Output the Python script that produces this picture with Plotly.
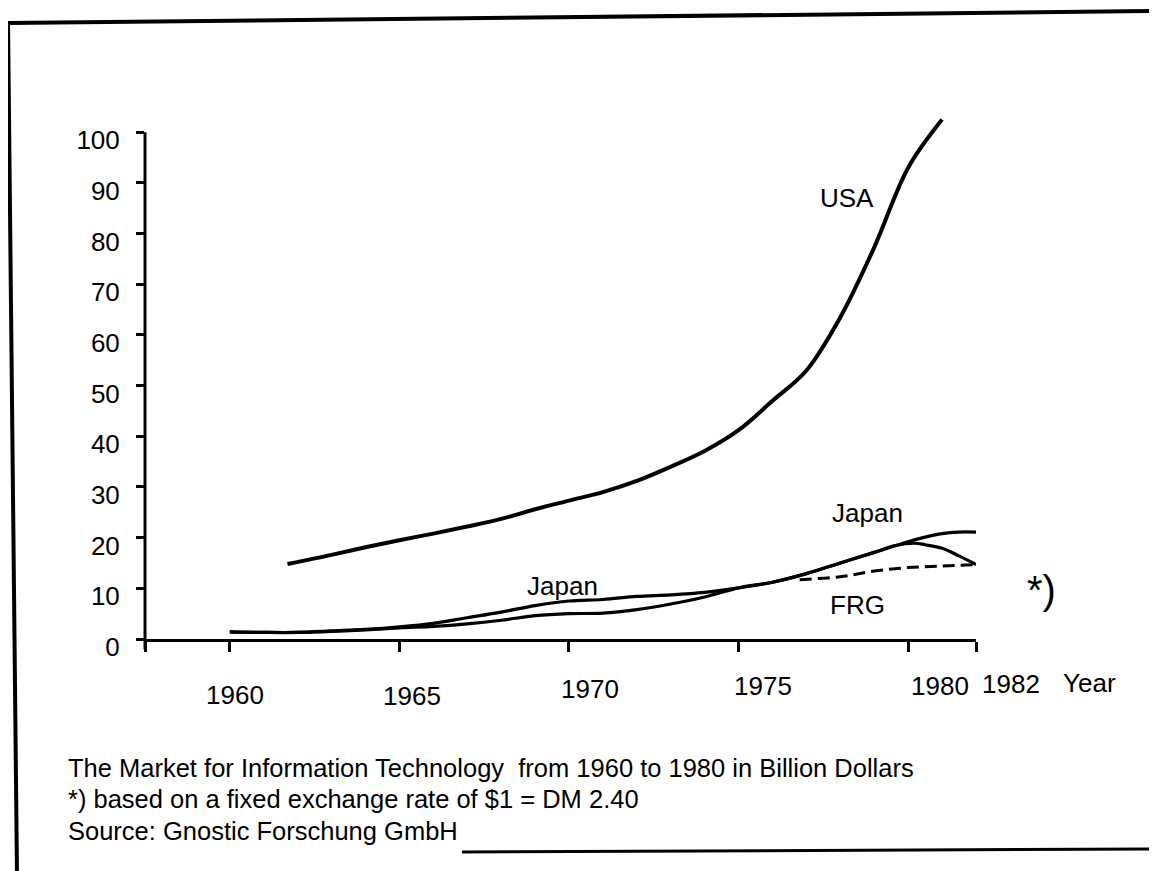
import plotly.graph_objects as go

# values (billion dollars)
usa_years = [1961.7, 1963, 1964, 1965, 1966, 1967, 1968, 1969, 1970, 1971, 1972,
             1973, 1974, 1975, 1976, 1977, 1978, 1979, 1980, 1981]
usa_values = [14.8, 16.6, 18.1, 19.5, 20.8, 22.2, 23.7, 25.6, 27.3, 29.0, 31.2,
              34.0, 37.1, 41.2, 47.0, 53.0, 63.5, 77.3, 93.0, 102.5]

japan_years = [1960, 1961, 1962, 1963, 1964, 1965, 1966, 1967, 1968, 1969, 1970,
               1971, 1972, 1973, 1974, 1975, 1976, 1977, 1978, 1979, 1980,
               1980.5, 1981, 1981.5, 1982]
japan_values = [1.4, 1.3, 1.3, 1.6, 1.9, 2.4, 3.1, 4.2, 5.3, 6.6, 7.5,
                7.8, 8.4, 8.7, 9.2, 10.1, 11.2, 12.9, 15.0, 17.1, 19.2,
                20.1, 20.8, 21.1, 21.1]

frg_years = [1960, 1961, 1962, 1963, 1964, 1965, 1966, 1967, 1968, 1969, 1970,
             1971, 1972, 1973, 1974, 1975, 1976, 1977, 1978, 1979, 1979.6,
             1980.2, 1980.5, 1981, 1981.5, 1982]
frg_values = [1.4, 1.3, 1.3, 1.5, 1.8, 2.2, 2.5, 3.0, 3.7, 4.6, 5.0,
              5.1, 5.8, 6.9, 8.3, 10.1, 11.2, 12.9, 15.0, 17.1, 18.4,
              18.9, 18.6, 17.9, 16.4, 14.7]

# FRG at fixed exchange rate *)
frg_fixed_years = [1976.8, 1978, 1979, 1980, 1981, 1982]
frg_fixed_values = [11.7, 12.3, 13.4, 14.1, 14.4, 14.7]

y_ticks = [0, 10, 20, 30, 40, 50, 60, 70, 80, 90, 100]
x_ticks = [1957.5, 1960, 1965, 1970, 1975, 1980, 1982]
year_labels = ["1960", "1965", "1970", "1975", "1980", "1982", "Year"]

captions = [
    "The Market for Information Technology  from 1960 to 1980 in Billion Dollars",
    "*) based on a fixed exchange rate of $1 = DM 2.40",
    "Source: Gnostic Forschung GmbH",
]

FONT = "Liberation Sans, Arial, sans-serif"
BODY = 8  # default page margin around the plot div
W_FIG, H_FIG = 1157 - BODY, 871 - BODY
# plot area in screen pixels
SL, SR, ST, SB = 145, 976, 112, 639
Y_MAX = 104


def px(x):
    return (x - SL) / (SR - SL)


def py(y):
    return (SB - y) / (SB - ST)


fig = go.Figure()
fig.add_trace(go.Scatter(x=usa_years, y=usa_values, mode="lines", line_shape="spline",
                         line=dict(color="black", width=4), name="USA"))
fig.add_trace(go.Scatter(x=japan_years, y=japan_values, mode="lines", line_shape="spline",
                         line=dict(color="black", width=3.2), name="Japan"))
fig.add_trace(go.Scatter(x=frg_years, y=frg_values, mode="lines", line_shape="spline",
                         line=dict(color="black", width=3.2), name="FRG"))
fig.add_trace(go.Scatter(x=frg_fixed_years, y=frg_fixed_values, mode="lines", line_shape="spline",
                         line=dict(color="black", width=3, dash="12px,6px"), name="FRG *)"))

txt = dict(family=FONT, size=26, color="black")
ann = [
    dict(x=1978.2, y=87, xref="x", yref="y", text="USA", showarrow=False, font=txt),
    dict(x=1978.8, y=24.8, xref="x", yref="y", text="Japan", showarrow=False, font=txt),
    dict(x=1969.8, y=10.4, xref="x", yref="y", text="Japan", showarrow=False, font=txt),
    dict(x=1978.5, y=6.7, xref="x", yref="y", text="FRG", showarrow=False, font=txt),
    dict(x=px(1041), y=py(590), xref="paper", yref="paper", text="*)", showarrow=False,
         xanchor="center", yanchor="middle", font=dict(family=FONT, size=40, color="black")),
]
label_x = [235, 412, 590, 763, 940, 1011, 1089]
label_y = [695, 696, 689, 686, 686, 684, 683]
for lab, lx, ly in zip(year_labels, label_x, label_y):
    ann.append(dict(x=px(lx), y=py(ly), xref="paper", yref="paper", text=lab,
                    xanchor="center", yanchor="middle", showarrow=False, font=txt))
for cap, cy in zip(captions, [768, 799, 831]):
    ann.append(dict(x=px(66), y=py(cy), xref="paper", yref="paper", text=cap,
                    xanchor="left", yanchor="middle", showarrow=False,
                    font=dict(family=FONT, size=25.5, color="black")))

shapes = [
    # y axis line, stops at the 100 tick and pokes below the x axis
    dict(type="line", xref="paper", yref="paper", x0=0, x1=0, y0=-2 / Y_MAX, y1=100 / Y_MAX,
         line=dict(color="black", width=3)),
    # frame of the (slightly rotated) scanned page
    dict(type="line", xref="paper", yref="paper", x0=px(8), y0=py(23), x1=px(1160), y1=py(11),
         line=dict(color="black", width=4)),
    dict(type="line", xref="paper", yref="paper", x0=px(8), y0=py(21), x1=px(17), y1=py(875),
         line=dict(color="black", width=4)),
    dict(type="line", xref="paper", yref="paper", x0=px(462), y0=py(852), x1=px(1160), y1=py(849),
         line=dict(color="black", width=3)),
]

fig.update_layout(
    width=W_FIG, height=H_FIG,
    margin=dict(l=SL - BODY, r=W_FIG + BODY - SR, t=ST - BODY, b=H_FIG + BODY - SB),
    plot_bgcolor="white", paper_bgcolor="white",
    showlegend=False,
    annotations=ann,
    shapes=shapes,
    font=dict(family=FONT, color="black"),
)
fig.update_xaxes(range=[1957.5, 1982], tickvals=x_ticks, showticklabels=False,
                 ticks="outside", ticklen=10, tickwidth=2.5, tickcolor="black",
                 showline=True, linewidth=3, linecolor="black",
                 showgrid=False, zeroline=False)
fig.update_yaxes(range=[0, Y_MAX], tickvals=y_ticks, ticks="outside", ticklen=8,
                 tickwidth=2.5, tickcolor="black", ticklabelstandoff=11, ticklabelshift=8,
                 tickfont=txt, showline=False, showgrid=False, zeroline=False)

fig.write_html("out.html")
